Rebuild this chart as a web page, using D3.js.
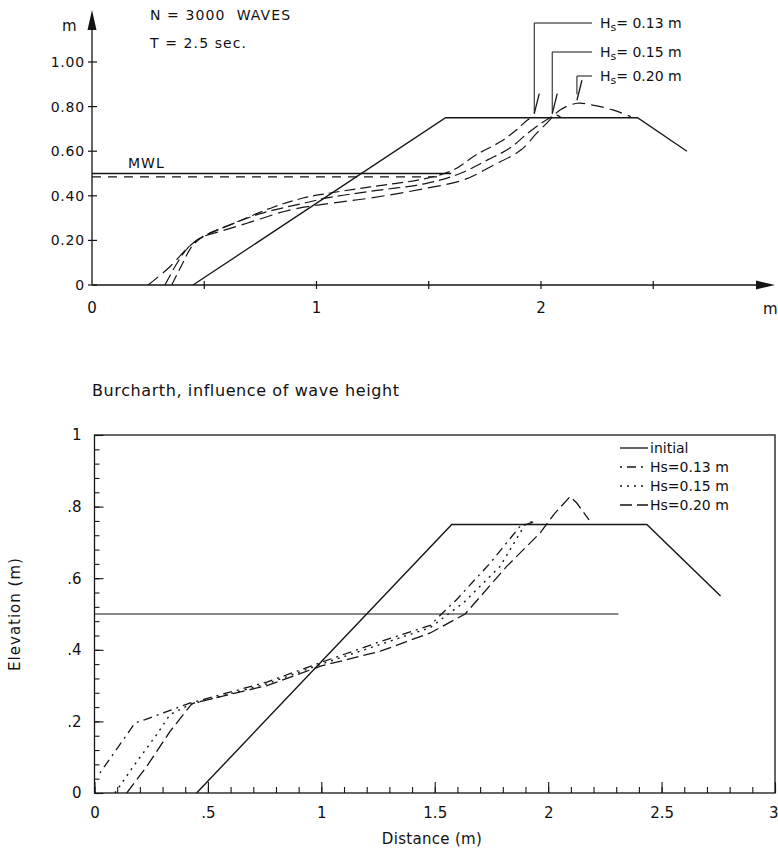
<!DOCTYPE html>
<html>
<head>
<meta charset="utf-8">
<script src="https://cdn.jsdelivr.net/npm/d3@7"></script>
<style>
  body { margin: 0; background: #fff; }
  svg { display: block; }
  .upper text { font-family: "DejaVu Sans", sans-serif; fill: #111; white-space: pre; }
  .lower text { font-family: "DejaVu Sans", sans-serif; fill: #111; }
</style>
</head>
<body>
<div id="chart"></div>
<script>
var width = 778;
var height = 851;
var ink = "#151515";

// ---- top figure data (distance m, elevation m) ----
var topInitial = [[0.45, 0], [1.575, 0.75], [2.43, 0.75], [2.65, 0.6]];
var topMwl = [[0, 0.5], [1.6, 0.5]];
var topMwl2 = [[0, 0.485], [1.55, 0.485]];
var topHs013 = [[0.355, 0], [0.40, 0.09], [0.45, 0.18], [0.51, 0.225], [0.615, 0.27], [0.81, 0.35], [0.94, 0.39],
  [1.045, 0.41], [1.24, 0.44], [1.49, 0.478], [1.61, 0.516], [1.71, 0.583], [1.82, 0.643], [1.89, 0.695],
  [1.94, 0.74], [1.97, 0.755]];
var topHs015 = [[0.325, 0], [0.38, 0.1], [0.43, 0.17], [0.49, 0.215], [0.58, 0.255], [0.75, 0.32], [0.94, 0.366],
  [1.06, 0.393], [1.24, 0.42], [1.49, 0.456], [1.64, 0.5], [1.76, 0.56], [1.86, 0.613], [1.94, 0.68],
  [2.0, 0.725], [2.05, 0.755], [2.07, 0.762], [2.09, 0.75]];
var topHs020 = [[0.25, 0], [0.347, 0.082], [0.42, 0.16], [0.48, 0.21], [0.57, 0.24], [0.69, 0.277], [0.88, 0.336],
  [1.06, 0.366], [1.24, 0.39], [1.49, 0.434], [1.654, 0.471], [1.79, 0.538], [1.91, 0.605], [1.98, 0.68],
  [2.025, 0.725], [2.085, 0.785], [2.16, 0.815], [2.23, 0.807], [2.32, 0.785], [2.40, 0.755]];
var topYTicks = [0, 0.2, 0.4, 0.6, 0.8, 1.0];
var topYLabels = ["0", "0.20", "0.40", "0.60", "0.80", "1.00"];
var topXTicks = [0.5, 1, 1.5, 2, 2.5];
var topXLabels = [[0, "0"], [1, "1"], [2, "2"]];
var topNotes = ["N = 3000  WAVES", "T = 2.5 sec."];
var topHsLabels = ["0.13 m", "0.15 m", "0.20 m"];

// ---- bottom figure data ----
var botTitle = "Burcharth, influence of wave height";
var botInitial = [[0.45, 0], [1.575, 0.75], [2.435, 0.75], [2.76, 0.55]];
var botWater = [[0, 0.5], [2.31, 0.5]];
var botHs013 = [[0.024, 0.056], [0.179, 0.196], [0.223, 0.205], [0.42, 0.251], [0.76, 0.31], [1.0, 0.365],
  [1.26, 0.423], [1.48, 0.468], [1.53, 0.5], [1.596, 0.54], [1.744, 0.642], [1.876, 0.745], [1.95, 0.76]];
var botHs015 = [[0.09, 0], [0.171, 0.074], [0.274, 0.163], [0.333, 0.219], [0.42, 0.247], [0.76, 0.305],
  [1.0, 0.36], [1.26, 0.415], [1.48, 0.462], [1.56, 0.5], [1.626, 0.531], [1.788, 0.633], [1.898, 0.75], [1.93, 0.758]];
var botHs020 = [[0.142, 0], [0.23, 0.074], [0.333, 0.172], [0.43, 0.25], [0.76, 0.30], [1.0, 0.355],
  [1.26, 0.396], [1.48, 0.447], [1.634, 0.5], [1.817, 0.633], [1.964, 0.726], [2.03, 0.782], [2.097, 0.828],
  [2.126, 0.81], [2.18, 0.763]];
var legendNames = ["initial", "Hs=0.13 m", "Hs=0.15 m", "Hs=0.20 m"];

var svg = d3.select("#chart").append("svg")
  .attr("width", width)
  .attr("height", height)
  .style("background", "#fff");

// ================= top figure =================
var upper = svg.append("g").attr("class", "upper");
var xTop = d3.scaleLinear().domain([0, 3]).range([92, 765.5]);
var yTop = d3.scaleLinear().domain([0, 1]).range([285, 62]);
var lineTop = d3.line().x(d => xTop(d[0])).y(d => yTop(d[1])).curve(d3.curveCatmullRom);
var lineTopStraight = d3.line().x(d => xTop(d[0])).y(d => yTop(d[1]));

// axes with arrows
upper.append("line").attr("x1", xTop(0)).attr("y1", yTop(0)).attr("x2", xTop(0)).attr("y2", 20)
  .attr("stroke", ink).attr("stroke-width", 1.3);
upper.append("path").attr("d", "M" + xTop(0) + ",10 L" + (xTop(0) - 4.5) + ",30 L" + (xTop(0) + 4.5) + ",30 Z")
  .attr("fill", ink);
upper.append("line").attr("x1", xTop(0)).attr("y1", yTop(0)).attr("x2", 765).attr("y2", yTop(0))
  .attr("stroke", ink).attr("stroke-width", 1.3);
upper.append("path").attr("d", "M775," + yTop(0) + " L756," + (yTop(0) - 4.5) + " L756," + (yTop(0) + 4.5) + " Z")
  .attr("fill", ink);

upper.selectAll(".ytick").data(topYTicks).enter().append("line")
  .attr("x1", xTop(0) - 4).attr("x2", xTop(0) + 5)
  .attr("y1", d => yTop(d)).attr("y2", d => yTop(d))
  .attr("stroke", ink).attr("stroke-width", 1.2);
upper.selectAll(".ylab").data(topYTicks).enter().append("text")
  .attr("x", 85).attr("y", d => yTop(d) + 5)
  .attr("text-anchor", "end").style("font-size", "14px").style("letter-spacing", "0.8px")
  .text((d, i) => topYLabels[i]);
upper.selectAll(".xtick").data(topXTicks).enter().append("line")
  .attr("x1", d => xTop(d)).attr("x2", d => xTop(d))
  .attr("y1", yTop(0) - 4).attr("y2", yTop(0) + 4)
  .attr("stroke", ink).attr("stroke-width", 1.2);
upper.selectAll(".xlab").data(topXLabels).enter().append("text")
  .attr("x", d => xTop(d[0])).attr("y", 313)
  .attr("text-anchor", "middle").style("font-size", "15px")
  .text(d => d[1]);
upper.append("text").attr("x", 62).attr("y", 31).style("font-size", "15px").text("m");
upper.append("text").attr("x", 763).attr("y", 314).style("font-size", "15px").text("m");

upper.selectAll(".note").data(topNotes).enter().append("text")
  .attr("x", 150).attr("y", (d, i) => 20 + i * 28)
  .style("font-size", "14px").style("letter-spacing", "1.1px")
  .text(d => d);
upper.append("text").attr("x", 128).attr("y", 168).style("font-size", "14px")
  .style("letter-spacing", "1px").text("MWL");

// profiles
upper.append("path").attr("d", lineTopStraight(topMwl)).attr("fill", "none").attr("stroke", ink).attr("stroke-width", 1.6);
upper.append("path").attr("d", lineTopStraight(topMwl2)).attr("fill", "none").attr("stroke", ink)
  .attr("stroke-width", 1.1).attr("stroke-dasharray", "9,7");
upper.append("path").attr("d", lineTopStraight(topInitial)).attr("fill", "none").attr("stroke", ink).attr("stroke-width", 1.3);
[topHs013, topHs015, topHs020].forEach(function(s, i) {
  upper.append("path").attr("d", lineTop(s)).attr("fill", "none").attr("stroke", ink)
    .attr("stroke-width", 1.2).attr("stroke-dasharray", ["11,5", "12,5", "13,6"][i]);
});

// Hs labels with leader lines
var hsEnds = [topHs013[topHs013.length - 1], topHs015[topHs015.length - 3], topHs020[16]];
var hsRowY = [23, 52, 76];
hsEnds.forEach(function(p, i) {
  var px = xTop(p[0]);
  var py = yTop(p[1]) - 3;
  var g = upper.append("g");
  g.append("path")
    .attr("d", "M592," + hsRowY[i] + " L" + px + "," + hsRowY[i] + " L" + px + "," + (py - (i == 2 ? 6 : 0)))
    .attr("fill", "none").attr("stroke", ink).attr("stroke-width", 1);
  g.append("line").attr("x1", px + 5).attr("y1", py - 20).attr("x2", px).attr("y2", py)
    .attr("stroke", ink).attr("stroke-width", 1.3);
  var t = g.append("text").attr("x", 600).attr("y", hsRowY[i] + 5).style("font-size", "14px");
  t.append("tspan").text("H");
  t.append("tspan").attr("dy", 3).style("font-size", "11px").text("s");
  t.append("tspan").attr("dy", -3).text("= " + topHsLabels[i]);
});

// ================= bottom figure =================
var lower = svg.append("g").attr("class", "lower");
var xB = d3.scaleLinear().domain([0, 3]).range([94.5, 775]);
var yB = d3.scaleLinear().domain([0, 1]).range([793, 435]);
var lineB = d3.line().x(d => xB(d[0])).y(d => yB(d[1]));
var fmt = d => String(+d.toFixed(2)).replace(/^0\./, ".");

lower.append("text").attr("x", 92).attr("y", 396).style("font-size", "16px")
  .style("letter-spacing", "0.6px").text(botTitle);

lower.append("rect").attr("x", xB(0)).attr("y", yB(1))
  .attr("width", xB(3) - xB(0)).attr("height", yB(0) - yB(1))
  .attr("fill", "none").attr("stroke", ink).attr("stroke-width", 1.3);

var xMinor = lower.append("g").attr("transform", "translate(0," + yB(0) + ")")
  .call(d3.axisBottom(xB).tickValues(d3.range(0, 31).map(i => i / 10)).tickSize(-6).tickFormat(""));
var xMajor = lower.append("g").attr("transform", "translate(0," + yB(0) + ")")
  .call(d3.axisBottom(xB).tickValues([0, 0.5, 1, 1.5, 2, 2.5, 3]).tickSize(-11).tickPadding(14).tickFormat(fmt));
var yMinor = lower.append("g").attr("transform", "translate(" + xB(0) + ",0)")
  .call(d3.axisLeft(yB).tickValues(d3.range(0, 26).map(i => i * 0.04)).tickSize(-5).tickFormat(""));
var yMajor = lower.append("g").attr("transform", "translate(" + xB(0) + ",0)")
  .call(d3.axisLeft(yB).tickValues([0, 0.2, 0.4, 0.6, 0.8, 1]).tickSize(-9).tickPadding(13).tickFormat(fmt));
[xMinor, xMajor, yMinor, yMajor].forEach(function(a) {
  a.select(".domain").remove();
  a.selectAll("line").attr("stroke", ink).attr("stroke-width", 1.1);
  a.selectAll("text").style("font-size", "15px").style("font-family", "DejaVu Sans, sans-serif").attr("fill", ink);
});
// last x label sits against the page edge
xMajor.selectAll(".tick").filter(d => d === 3).select("text").attr("text-anchor", "end").attr("x", 3);

lower.append("text").attr("x", 432).attr("y", 844).attr("text-anchor", "middle")
  .style("font-size", "15px").style("letter-spacing", "0.3px").text("Distance (m)");
lower.append("text").attr("transform", "translate(20,614) rotate(-90)").attr("text-anchor", "middle")
  .style("font-size", "15px").style("letter-spacing", "1px").text("Elevation (m)");

var styles = [
  { data: botInitial, dash: null, w: 1.4 },
  { data: botHs013, dash: "2,5,9,5", w: 1.3 },
  { data: botHs015, dash: "2,5", w: 1.4 },
  { data: botHs020, dash: "12,5", w: 1.3 }
];
lower.append("path").attr("d", lineB(botWater)).attr("fill", "none").attr("stroke", ink).attr("stroke-width", 1);
styles.forEach(function(s) {
  lower.append("path").attr("d", lineB(s.data)).attr("fill", "none").attr("stroke", ink)
    .attr("stroke-width", s.w).attr("stroke-dasharray", s.dash);
});

// legend
var legend = lower.append("g");
legendNames.forEach(function(name, i) {
  var cy = 448 + i * 19;
  legend.append("line").attr("x1", 620).attr("x2", 648).attr("y1", cy).attr("y2", cy)
    .attr("stroke", ink).attr("stroke-width", 1.3).attr("stroke-dasharray", styles[i].dash);
  legend.append("text").attr("x", 650).attr("y", cy + 5).style("font-size", "14px").text(name);
});
</script>
</body>
</html>
